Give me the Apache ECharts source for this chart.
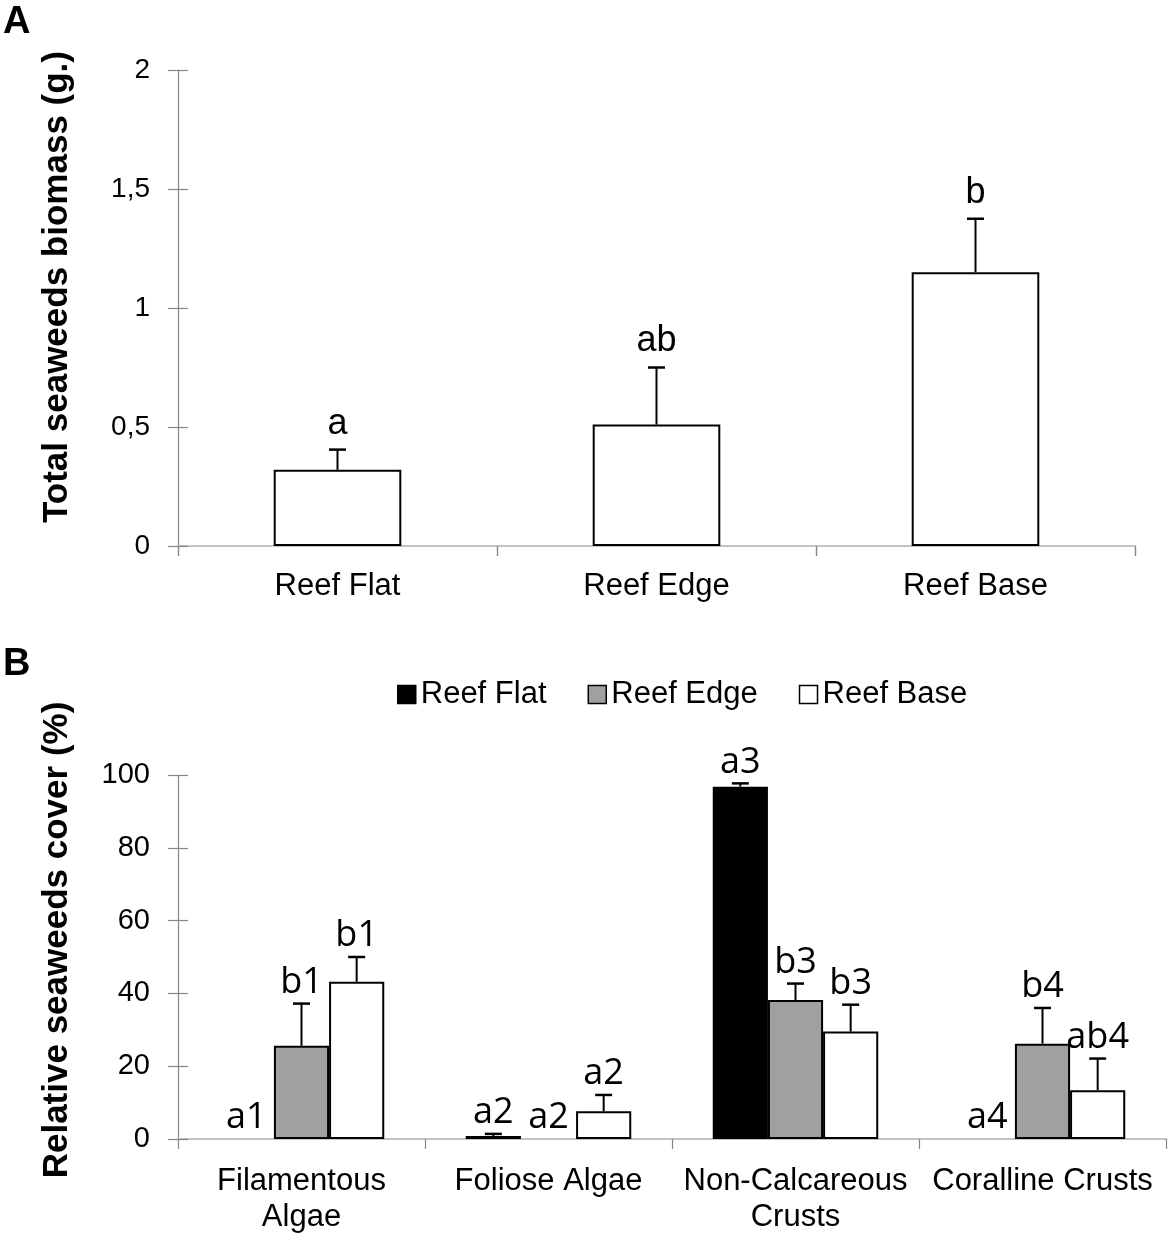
<!DOCTYPE html>
<html>
<head>
<meta charset="utf-8">
<script src="https://cdn.jsdelivr.net/npm/echarts@6/dist/echarts.min.js"></script>
<style>
html,body{margin:0;padding:0;background:#fff;}
#chart{width:1170px;height:1235px;}
</style>
</head>
<body>
<div id="chart"></div>
<script>
// ---- Panel A data ----
var zonesA = ['Reef Flat', 'Reef Edge', 'Reef Base'];
var biomass = [0.32, 0.51, 1.15];
var biomassErr = [0.085, 0.24, 0.225];
var biomassLetters = ['a', 'ab', 'b'];
var ticksA = [0, 0.5, 1, 1.5, 2];

// ---- Panel B data ----
var groupsB = ['Filamentous\nAlgae', 'Foliose Algae', 'Non-Calcareous\nCrusts', 'Coralline Crusts'];
var seriesNames = ['Reef Flat', 'Reef Edge', 'Reef Base'];
var coverFlat = [0, 0.8, 96.8, 0];
var coverFlatErr = [0, 0.6, 0.9, 0];
var coverEdge = [25.6, 0, 38.2, 26.2];
var coverEdgeErr = [11.6, 0, 4.5, 9.8];
var coverBase = [43.2, 7.6, 29.5, 13.4];
var coverBaseErr = [6.8, 4.5, 7.4, 8.7];
var lettersFlat = ['a1', 'a2', 'a3', 'a4'];
var lettersEdge = ['b1', 'a2', 'b3', 'b4'];
var lettersBase = ['b1', 'a2', 'b3', 'ab4'];
var ticksB = [0, 20, 40, 60, 80, 100];

var ARIAL = '"Liberation Sans", Arial, sans-serif';
var CALIBRI = '"Open Sans", "Noto Sans", sans-serif';
var AXIS_GREY = '#868686';
var LINE_GREY = '#c4c4c4';

var chart = echarts.init(document.getElementById('chart'), null, {renderer: 'canvas'});

function errSeries(name, xIdx, yIdx, vals, errs, letters, k, n, gap, font, textGap) {
  return {
    type: 'custom',
    name: name + '_err',
    xAxisIndex: xIdx,
    yAxisIndex: yIdx,
    silent: true,
    z: 10,
    data: vals.map(function (v, i) { return [i, v, errs[i]]; }),
    renderItem: function (params, api) {
      var i = api.value(0), v = api.value(1), e = api.value(2);
      var bw = api.size([1, 0])[0];
      var barW = bw * (1 - gap) / n;
      var x = api.coord([i, 0])[0] + (k - (n - 1) / 2) * barW;
      var yTop = api.coord([i, v])[1];
      var yCap = api.coord([i, v + e])[1];
      var children = [];
      if (e > 0) {
        children.push({type: 'line', shape: {x1: x, y1: yTop, x2: x, y2: yCap},
          style: {stroke: '#000', lineWidth: 2}});
        children.push({type: 'line', shape: {x1: x - 8.5, y1: yCap, x2: x + 8.5, y2: yCap},
          style: {stroke: '#000', lineWidth: 2.5}});
      }
      children.push({type: 'text', x: x, y: yCap - textGap,
        style: {text: letters[params.dataIndex], fill: '#000', font: font,
          align: 'center', verticalAlign: 'bottom'}});
      return {type: 'group', children: children};
    }
  };
}

function nz(arr) { return arr.map(function (v) { return v === 0 ? null : v; }); }

var barBorder = {borderColor: '#000', borderWidth: 2};

var option = {
  animation: false,
  backgroundColor: '#fff',
  grid: [
    {left: 178, top: 70, width: 957, height: 476},
    {left: 178, top: 775, width: 988, height: 365}
  ],
  legend: {
    data: seriesNames,
    left: 392, top: 674,
    itemWidth: 18, itemHeight: 18, itemGap: 41,
    icon: 'rect',
    textStyle: {fontFamily: ARIAL, fontSize: 31, color: '#000'},
    itemStyle: {borderColor: '#000', borderWidth: 1.5}
  },
  xAxis: [
    {type: 'category', gridIndex: 0, data: zonesA,
      axisLine: {lineStyle: {color: LINE_GREY, width: 2}},
      axisTick: {show: true, length: 10, lineStyle: {color: AXIS_GREY, width: 1.2}},
      axisLabel: {fontFamily: ARIAL, fontSize: 31, color: '#000', margin: 25}},
    {type: 'category', gridIndex: 0, data: zonesA,
      axisLine: {show: false}, axisLabel: {show: false},
      axisTick: {show: true, inside: true, length: 10, lineStyle: {color: AXIS_GREY, width: 1.2}}},
    {type: 'category', gridIndex: 1, data: groupsB,
      axisLine: {lineStyle: {color: LINE_GREY, width: 2}},
      axisTick: {show: true, length: 10, lineStyle: {color: AXIS_GREY, width: 1.2}},
      axisLabel: {fontFamily: ARIAL, fontSize: 31, color: '#000', margin: 24, lineHeight: 36, interval: 0}}
  ],
  yAxis: [
    {type: 'value', gridIndex: 0, min: ticksA[0], max: ticksA[ticksA.length - 1], interval: 0.5,
      axisLine: {show: true, lineStyle: {color: AXIS_GREY, width: 1.2}},
      axisTick: {show: true, length: 10, lineStyle: {color: AXIS_GREY, width: 1.2}},
      splitLine: {show: false},
      axisLabel: {fontFamily: ARIAL, fontSize: 28, color: '#000', margin: 28,
        formatter: function (v) { return String(v).replace('.', ','); }}},
    {type: 'value', gridIndex: 0, min: ticksA[0], max: ticksA[ticksA.length - 1], interval: 0.5,
      position: 'left', axisLine: {show: false}, axisLabel: {show: false}, splitLine: {show: false},
      axisTick: {show: true, inside: true, length: 10, lineStyle: {color: AXIS_GREY, width: 1.2}}},
    {type: 'value', gridIndex: 1, min: ticksB[0], max: ticksB[ticksB.length - 1], interval: 20,
      axisLine: {show: true, lineStyle: {color: AXIS_GREY, width: 1.2}},
      axisTick: {show: true, length: 10, lineStyle: {color: AXIS_GREY, width: 1.2}},
      splitLine: {show: false},
      axisLabel: {fontFamily: ARIAL, fontSize: 29, color: '#000', margin: 28}},
    {type: 'value', gridIndex: 1, min: ticksB[0], max: ticksB[ticksB.length - 1], interval: 20,
      position: 'left', axisLine: {show: false}, axisLabel: {show: false}, splitLine: {show: false},
      axisTick: {show: true, inside: true, length: 10, lineStyle: {color: AXIS_GREY, width: 1.2}}}
  ],
  series: [
    {type: 'bar', name: 'Total biomass', xAxisIndex: 0, yAxisIndex: 0, data: biomass,
      barCategoryGap: '60%', itemStyle: Object.assign({color: '#fff'}, barBorder)},
    errSeries('A', 0, 0, biomass, biomassErr, biomassLetters, 0, 1, 0.6, '36px ' + ARIAL, 8),

    {type: 'bar', name: seriesNames[0], xAxisIndex: 2, yAxisIndex: 2, data: nz(coverFlat),
      barGap: '0%', barCategoryGap: '33%', itemStyle: Object.assign({color: '#000'}, barBorder)},
    {type: 'bar', name: seriesNames[1], xAxisIndex: 2, yAxisIndex: 2, data: nz(coverEdge),
      barGap: '0%', barCategoryGap: '33%', itemStyle: Object.assign({color: '#a0a0a0'}, barBorder)},
    {type: 'bar', name: seriesNames[2], xAxisIndex: 2, yAxisIndex: 2, data: nz(coverBase),
      barGap: '0%', barCategoryGap: '33%', itemStyle: Object.assign({color: '#fff'}, barBorder)},
    errSeries('Flat', 2, 2, coverFlat, coverFlatErr, lettersFlat, 0, 3, 0.33, '36px ' + CALIBRI, 3),
    errSeries('Edge', 2, 2, coverEdge, coverEdgeErr, lettersEdge, 1, 3, 0.33, '36px ' + CALIBRI, 3),
    errSeries('Base', 2, 2, coverBase, coverBaseErr, lettersBase, 2, 3, 0.33, '36px ' + CALIBRI, 3)
  ],
  graphic: [
    {type: 'text', left: 3, top: 4, style: {text: 'A', font: 'bold 38px ' + ARIAL, fill: '#000'}},
    {type: 'text', left: 3, top: 646, style: {text: 'B', font: 'bold 38px ' + ARIAL, fill: '#000'}},
    {type: 'text', x: 57, y: 287, rotation: Math.PI / 2,
      style: {text: 'Total seaweeds biomass (g.)', font: 'bold 35px ' + ARIAL, fill: '#000',
        align: 'center', verticalAlign: 'middle'}},
    {type: 'text', x: 57, y: 940, rotation: Math.PI / 2,
      style: {text: 'Relative seaweeds cover (%)', font: 'bold 35px ' + ARIAL, fill: '#000',
        align: 'center', verticalAlign: 'middle'}}
  ]
};
chart.setOption(option);
</script>
</body>
</html>
